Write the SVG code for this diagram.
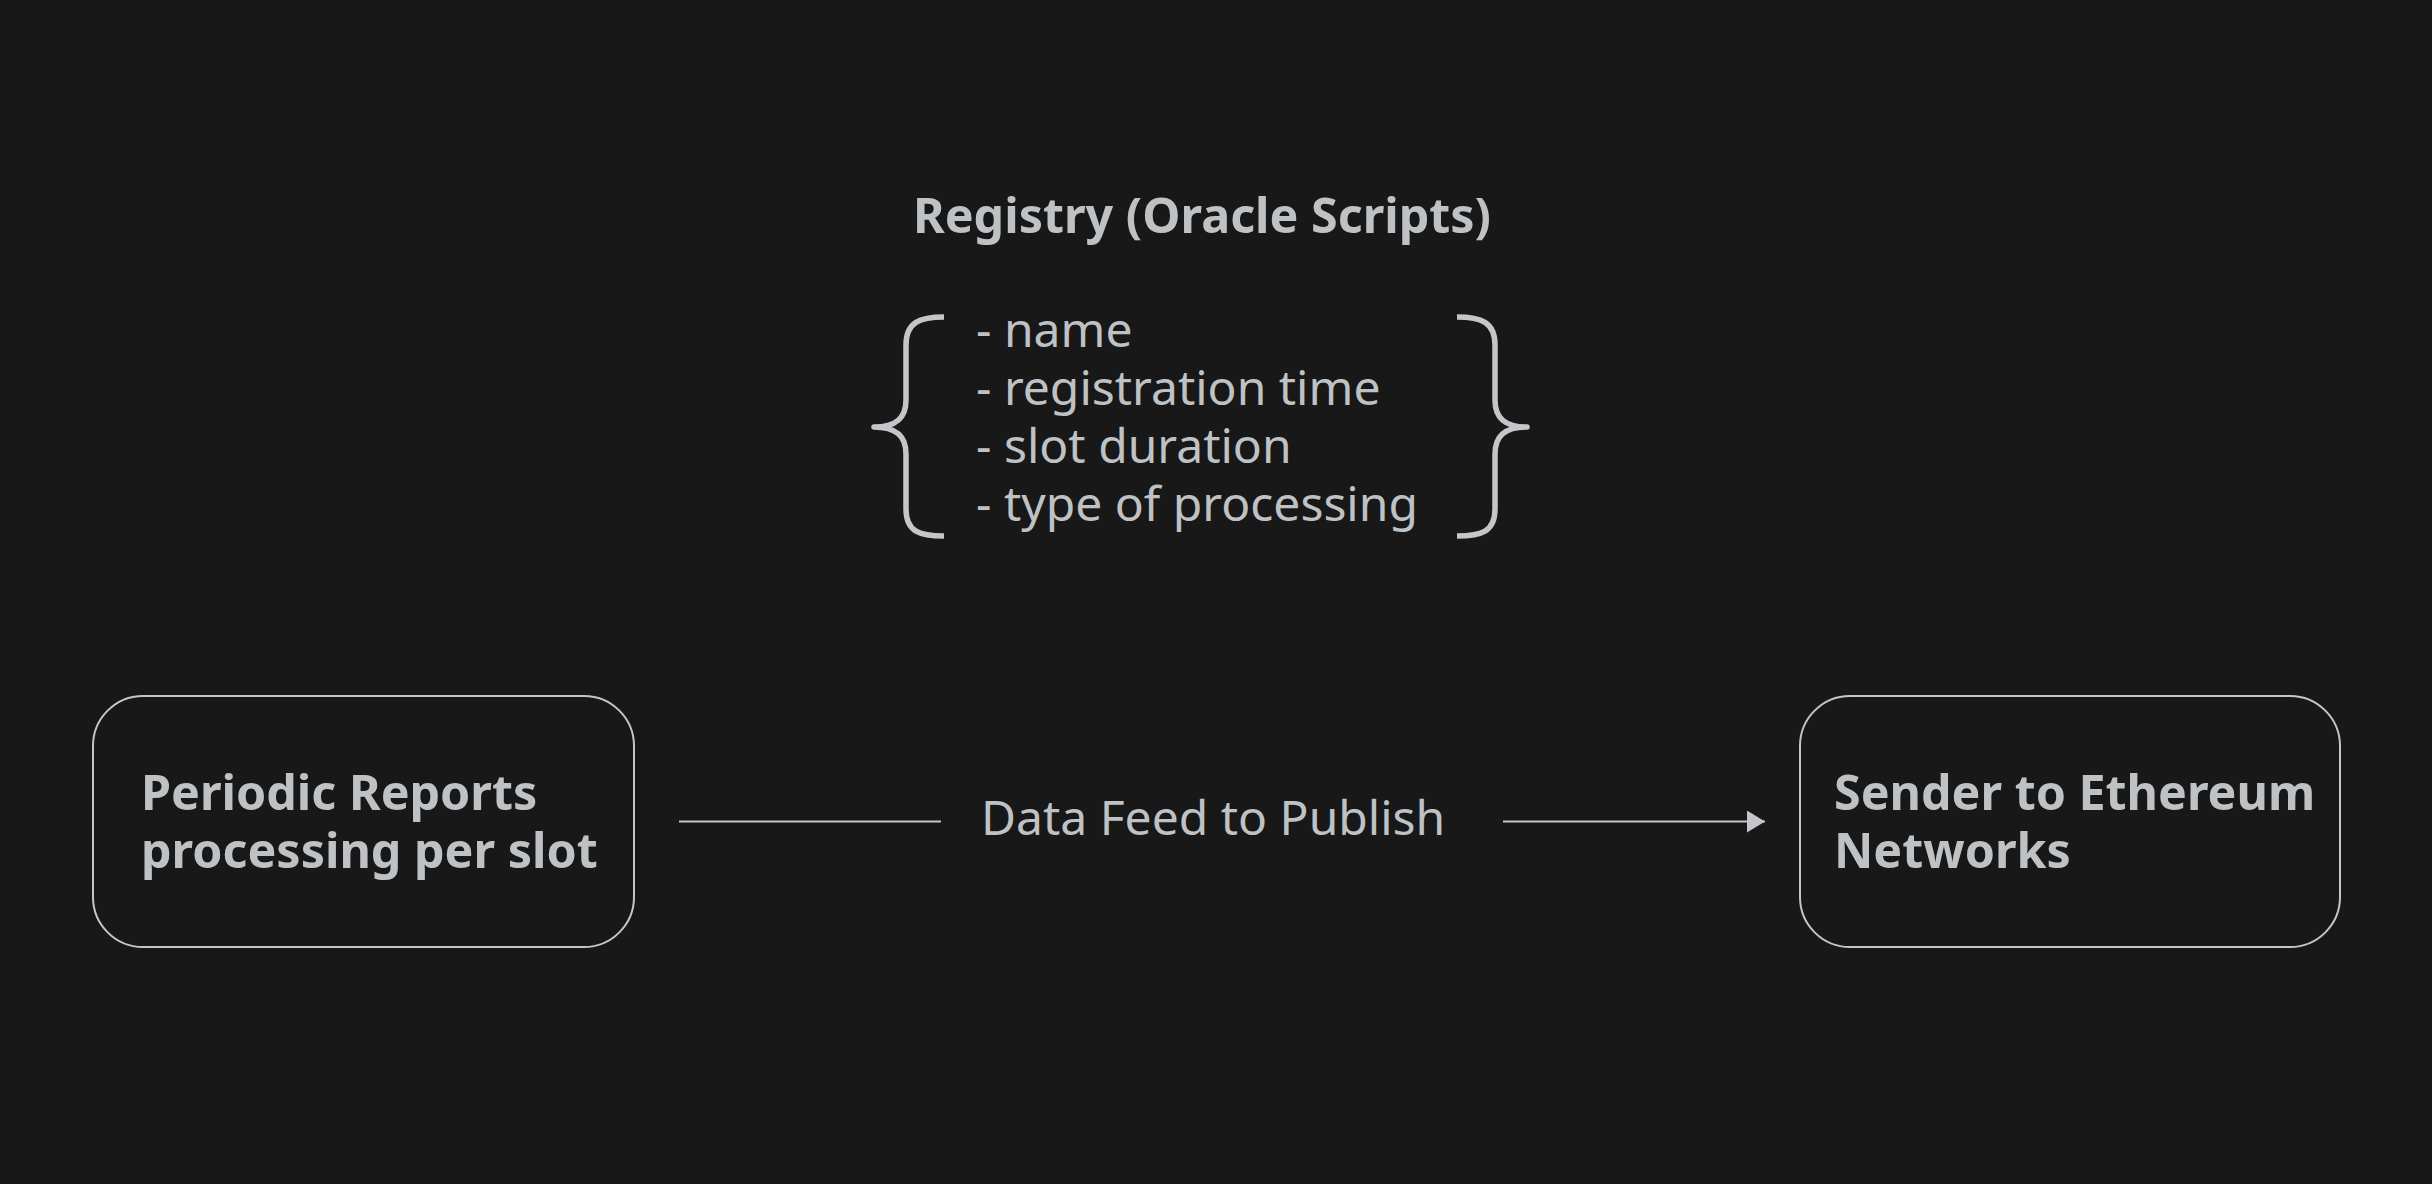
<svg xmlns="http://www.w3.org/2000/svg" width="2432" height="1184" viewBox="0 0 2432 1184">
  <style>
    .bg { fill: #181818; }
    .box { fill: #181818; stroke: #c4c6c9; stroke-width: 2; }
    .bold { font-family: "Noto Sans", "Open Sans", sans-serif; font-weight: 700; font-size: 48.4px; fill: #bfc2c5; }
    .reg { font-family: "Noto Sans", "Open Sans", sans-serif; font-weight: 400; font-size: 48px; fill: #bfc2c5; }
    .brace { fill: none; stroke: #c4c6c9; stroke-width: 5.5; stroke-linecap: butt; stroke-linejoin: round; }
    .edge { fill: none; stroke: #c4c6c9; stroke-width: 2; }
  </style>
  <defs>
    <marker id="arrow" markerWidth="18" markerHeight="22" refX="18" refY="11" orient="auto" markerUnits="userSpaceOnUse">
      <path d="M0,0 L18,11 L0,22 Z" fill="#c4c6c9"/>
    </marker>
  </defs>

  <rect class="bg" x="0" y="0" width="2432" height="1184"/>

  <!-- registry with its field list -->
  <g id="registry">
    <text class="bold" x="1202" y="233" text-anchor="middle">Registry (Oracle Scripts)</text>
    <path class="brace" d="M944,317 C920,317 906,322 906,345 L906,400 C906,418 896,427 874,427 C896,427 906,436 906,454 L906,509 C906,532 920,536 944,536"/>
    <path class="brace" d="M1457,317 C1481,317 1495,322 1495,345 L1495,400 C1495,418 1505,427 1527,427 C1505,427 1495,436 1495,454 L1495,509 C1495,532 1481,536 1457,536"/>
    <text class="reg" x="976">
      <tspan x="976" y="347">- name</tspan>
      <tspan x="976" y="405">- registration time</tspan>
      <tspan x="976" y="463">- slot duration</tspan>
      <tspan x="976" y="521">- type of processing</tspan>
    </text>
  </g>

  <g id="periodic-reports">
    <rect class="box" x="93" y="696" width="541" height="251" rx="50" ry="50"/>
    <text class="bold">
      <tspan x="141" y="810">Periodic Reports</tspan>
      <tspan x="141" y="868">processing per slot</tspan>
    </text>
  </g>

  <g id="sender">
    <rect class="box" x="1800" y="696" width="540" height="251" rx="50" ry="50"/>
    <text class="bold">
      <tspan x="1834" y="810">Sender to Ethereum</tspan>
      <tspan x="1834" y="868">Networks</tspan>
    </text>
  </g>

  <g id="connectors">
    <line class="edge" x1="679" y1="821.5" x2="941" y2="821.5"/>
    <text class="reg" x="981" y="835">Data Feed to Publish</text>
    <line class="edge" x1="1503" y1="821.5" x2="1765" y2="821.5" marker-end="url(#arrow)"/>
  </g>
</svg>
